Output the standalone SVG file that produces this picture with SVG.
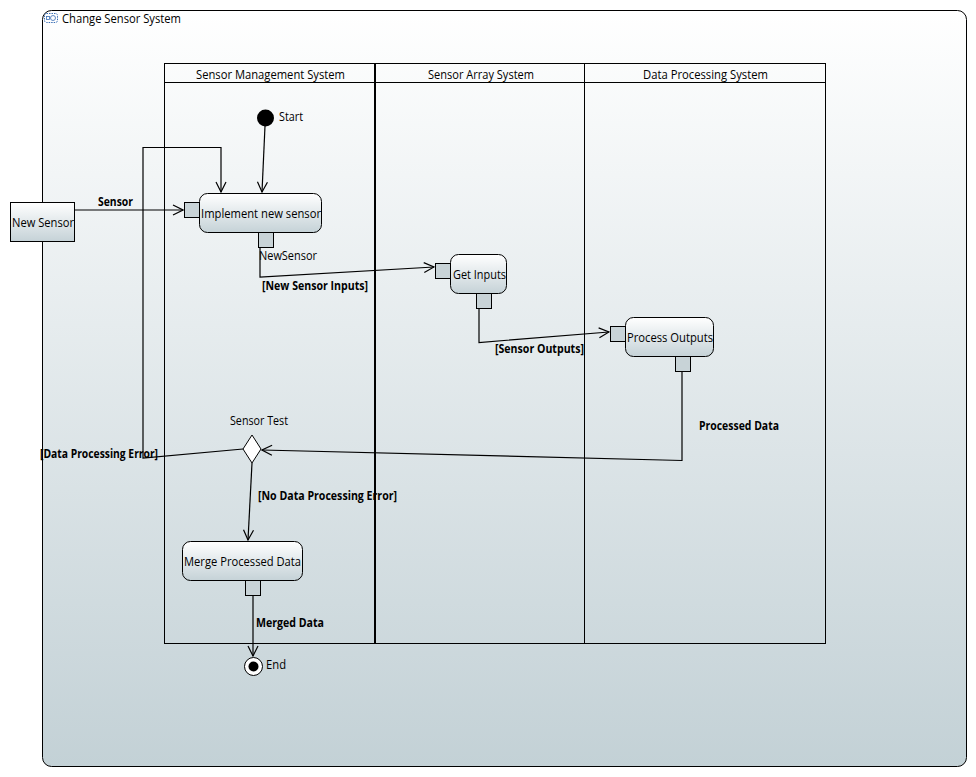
<svg xmlns="http://www.w3.org/2000/svg" width="976" height="777" viewBox="0 0 976 777">
<defs>
<linearGradient id="bg" x1="0" y1="0" x2="0" y2="1">
<stop offset="0" stop-color="#ffffff"/>
<stop offset="1" stop-color="#c3d1d6"/>
</linearGradient>
<linearGradient id="nd" x1="0" y1="0" x2="0" y2="1">
<stop offset="0" stop-color="#ffffff"/>
<stop offset="1" stop-color="#c5d2d7"/>
</linearGradient>
<marker id="arr" markerWidth="12" markerHeight="12" refX="11" refY="6" orient="auto" markerUnits="userSpaceOnUse">
<path d="M1,1 L11,6 L1,11" fill="none" stroke="#000" stroke-width="1.2"/>
</marker>
</defs>
<style>
text{font-family:"Open Sans","Liberation Sans",Arial,sans-serif;font-size:12px;fill:#000}
.b{font-weight:bold}
.act{fill:url(#nd);stroke:#000;stroke-width:1}
.pin{fill:#c8d3d7;stroke:#000;stroke-width:1}
.e{fill:none;stroke:#000;stroke-width:1.2}
.ea{fill:none;stroke:#000;stroke-width:1.2;marker-end:url(#arr)}
</style>
<rect width="976" height="777" fill="#ffffff"/>
<g id="frame">
<rect x="42.5" y="10.5" width="924" height="756" rx="9" fill="url(#bg)" stroke="#000" stroke-width="1"/>
<rect x="44.5" y="13.5" width="13" height="9" rx="2" fill="none" stroke="#3b6fb6" stroke-width="1" stroke-dasharray="1.5,1"/>
<circle cx="53" cy="18" r="2.5" fill="none" stroke="#3b6fb6" stroke-width="0.8"/>
<rect x="46.5" y="16.5" width="3" height="3" fill="none" stroke="#3b6fb6" stroke-width="0.8"/>
<text x="62" y="23" textLength="119" lengthAdjust="spacingAndGlyphs">Change Sensor System</text>
</g>
<g id="partition">
<rect x="164.5" y="63.5" width="661" height="580" fill="none" stroke="#000" stroke-width="1"/>
<line x1="164.5" y1="82.5" x2="825.5" y2="82.5" stroke="#000" stroke-width="1"/>
<line x1="375" y1="63" x2="375" y2="644" stroke="#000" stroke-width="2"/>
<line x1="584.5" y1="63" x2="584.5" y2="644" stroke="#000" stroke-width="1"/>
<text x="196" y="79" textLength="149" lengthAdjust="spacingAndGlyphs">Sensor Management System</text>
<text x="428" y="79" textLength="106" lengthAdjust="spacingAndGlyphs">Sensor Array System</text>
<text x="643" y="79" textLength="125" lengthAdjust="spacingAndGlyphs">Data Processing System</text>
</g>
<g id="connectors">
<line class="ea" x1="265" y1="126" x2="262" y2="192"/>
<line class="ea" x1="74" y1="210" x2="183" y2="210"/>
<polyline class="ea" points="243,449 143,458 143,147.5 221,147.5 221,192"/>
<polyline class="ea" points="260,247 260,277 434,267"/>
<polyline class="ea" points="479,308 479,342.5 609,332"/>
<polyline class="ea" points="682,371 682,460.5 262,450"/>
<line class="ea" x1="252" y1="463" x2="248" y2="540"/>
<line class="ea" x1="253" y1="595" x2="253" y2="656"/>
<text class="b" x="98" y="206" textLength="35" lengthAdjust="spacingAndGlyphs">Sensor</text>
<text x="259" y="260" textLength="58" lengthAdjust="spacingAndGlyphs">NewSensor</text>
<text class="b" x="262" y="290" textLength="106" lengthAdjust="spacingAndGlyphs">[New Sensor Inputs]</text>
<text class="b" x="495" y="353" textLength="89" lengthAdjust="spacingAndGlyphs">[Sensor Outputs]</text>
<text class="b" x="699" y="430" textLength="80" lengthAdjust="spacingAndGlyphs">Processed Data</text>
<text class="b" x="40" y="458" textLength="118" lengthAdjust="spacingAndGlyphs">[Data Processing Error]</text>
<text class="b" x="258" y="500" textLength="139" lengthAdjust="spacingAndGlyphs">[No Data Processing Error]</text>
<text class="b" x="256" y="627" textLength="68" lengthAdjust="spacingAndGlyphs">Merged Data</text>
</g>
<g id="start">
<circle cx="265.5" cy="118" r="8.5" fill="#000"/>
<text x="279" y="121" textLength="24" lengthAdjust="spacingAndGlyphs">Start</text>
</g>
<g id="newSensor">
<rect x="10.5" y="202.5" width="64" height="39" fill="url(#nd)" stroke="#000" stroke-width="1"/>
<text x="12" y="227" textLength="62" lengthAdjust="spacingAndGlyphs">New Sensor</text>
</g>
<g id="implementNewSensor">
<rect class="act" x="199.5" y="193.5" width="122" height="39" rx="8"/>
<rect class="pin" x="184.5" y="202.5" width="15" height="15"/>
<rect class="pin" x="258.5" y="232.5" width="15" height="15"/>
<text x="201" y="218" textLength="120" lengthAdjust="spacingAndGlyphs">Implement new sensor</text>
</g>
<g id="getInputs">
<rect class="act" x="450.5" y="254.5" width="56" height="39" rx="8"/>
<rect class="pin" x="435.5" y="263.5" width="15" height="15"/>
<rect class="pin" x="476.5" y="293.5" width="15" height="15"/>
<text x="453" y="279" textLength="53" lengthAdjust="spacingAndGlyphs">Get Inputs</text>
</g>
<g id="processOutputs">
<rect class="act" x="625.5" y="317.5" width="88" height="39" rx="8"/>
<rect class="pin" x="610.5" y="326.5" width="15" height="15"/>
<rect class="pin" x="675.5" y="356.5" width="15" height="15"/>
<text x="627" y="342" textLength="86" lengthAdjust="spacingAndGlyphs">Process Outputs</text>
</g>
<g id="sensorTest">
<polygon points="252,435 261,449 252,463 243,449" fill="#fff" stroke="#000" stroke-width="1"/>
<text x="230" y="425" textLength="58" lengthAdjust="spacingAndGlyphs">Sensor Test</text>
</g>
<g id="mergeProcessedData">
<rect class="act" x="182.5" y="541.5" width="120" height="39" rx="8"/>
<rect class="pin" x="245.5" y="580.5" width="15" height="15"/>
<text x="184" y="566" textLength="117" lengthAdjust="spacingAndGlyphs">Merge Processed Data</text>
</g>
<g id="end">
<circle cx="253.5" cy="666.5" r="9" fill="#fff" stroke="#000" stroke-width="1"/>
<circle cx="253.5" cy="666.5" r="5" fill="#000"/>
<text x="266" y="669" textLength="20" lengthAdjust="spacingAndGlyphs">End</text>
</g>
</svg>
